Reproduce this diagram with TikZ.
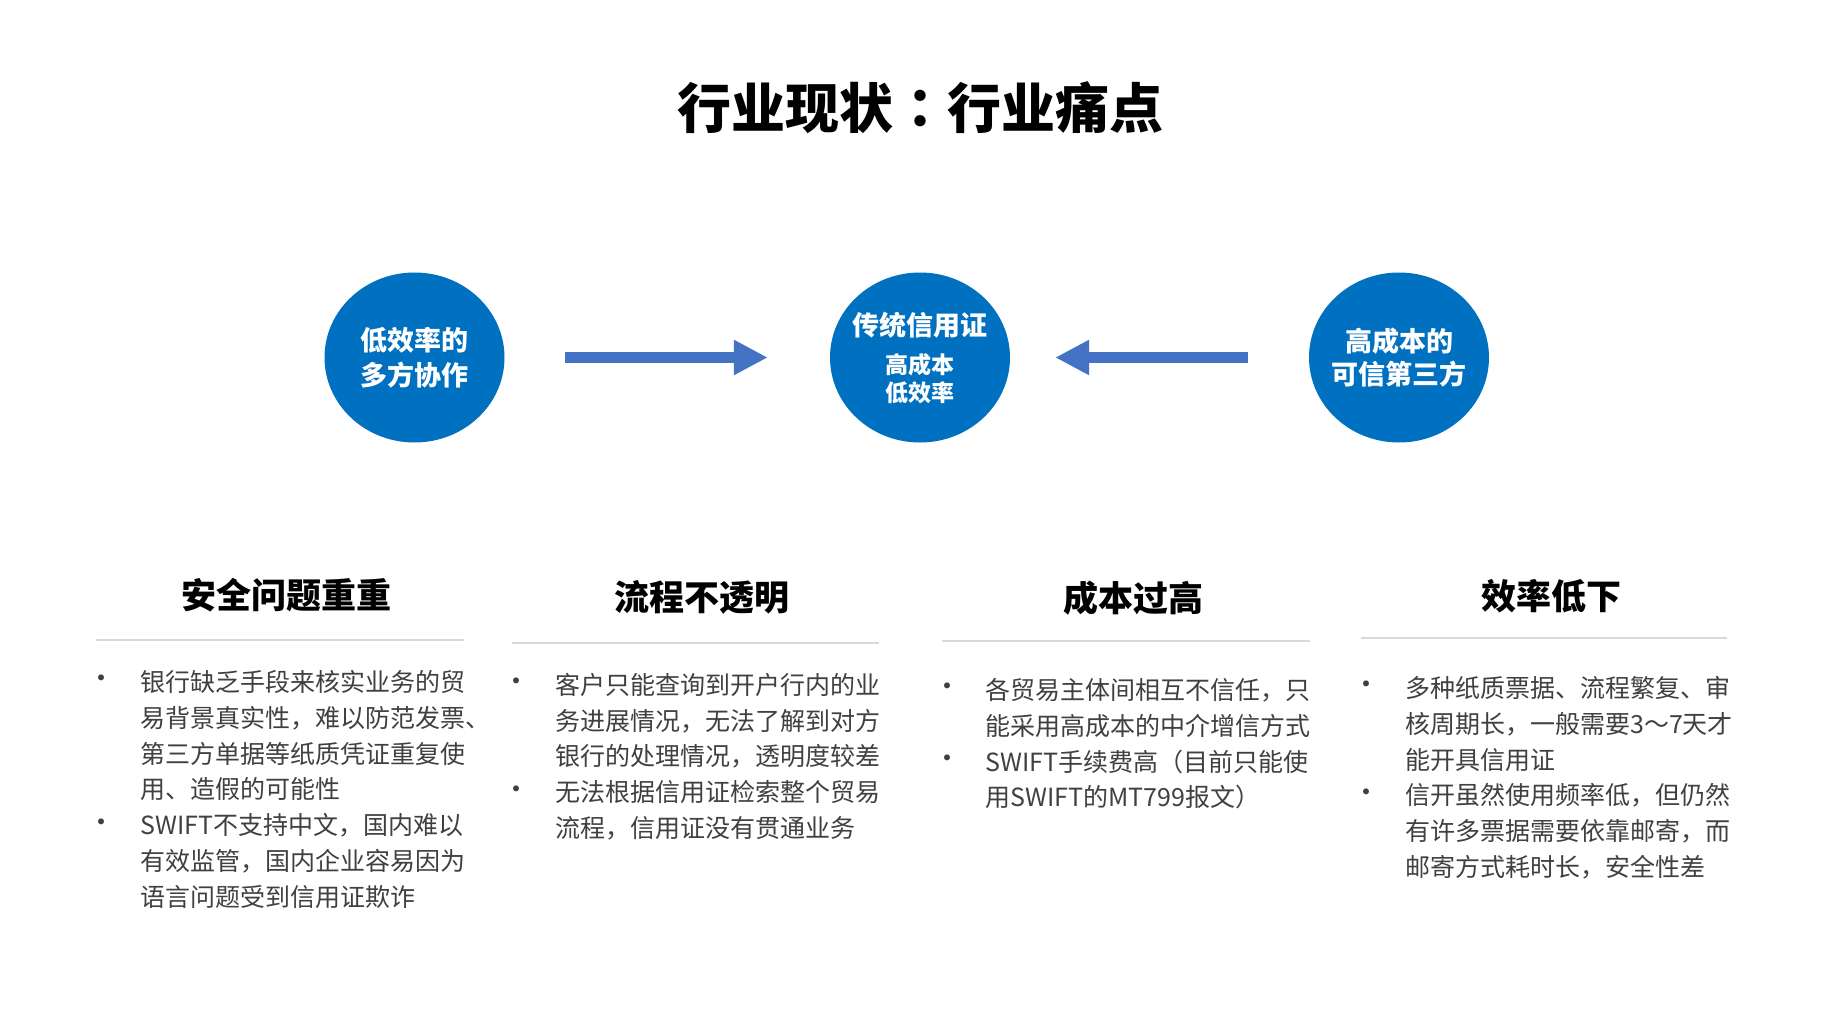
\documentclass[tikz,border=0pt]{standalone}
\usepackage{fontspec}
\setmainfont{Noto Sans CJK SC}
\newfontfamily\tcfont{Noto Sans CJK TC}
\usetikzlibrary{shapes.geometric,arrows.meta}
\definecolor{circblue}{RGB}{0,112,192}
\definecolor{arrblue}{RGB}{68,114,196}
\definecolor{bodygray}{RGB}{64,64,64}
\definecolor{rulegray}{RGB}{217,217,217}
\begin{document}
\begin{tikzpicture}[x=1pt,y=-1pt,
  bubble/.style={ellipse, fill=circblue, minimum width=180pt, minimum height=170pt, inner sep=0},
  bubtext/.style={text=white, font=\fontsize{27}{27}\selectfont\bfseries, inner sep=0},
  bubsmall/.style={text=white, font=\fontsize{23}{23}\selectfont\bfseries, inner sep=0},
  flow/.style={color=arrblue, line width=11pt, -{Triangle[length=34pt,width=33pt]}},
  heading/.style={font=\fontsize{35}{35}\selectfont\bfseries, inner sep=0},
  body/.style={font=\fontsize{25}{25}\selectfont, text=bodygray, anchor=west, inner sep=0},
  bulletmark/.style={font=\fontsize{28}{28}\selectfont, text=bodygray, inner sep=0},
  sepline/.style={draw=rulegray, line width=1.5pt}]
\useasboundingbox[fill=white] (0,0) rectangle (1840,1035);

% title
\node[font=\fontsize{54}{54}\selectfont\bfseries, inner sep=0] (title) at (920,107.5) {行业现状{\tcfont ：}行业痛点};

% bubbles
\node[bubble] (L) at (414.5,357.5) {};
\node[bubble] (M) at (920,357.5) {};
\node[bubble] (R) at (1399,357.5) {};

\node[bubtext] (l1) at (414.5,340) {低效率的};
\node[bubtext] (l2) at (414.5,375) {多方协作};
\node[bubtext] (m1) at (920,325) {传统信用证};
\node[bubsmall] (m2) at (920,365) {高成本};
\node[bubsmall] (m3) at (920,393) {低效率};
\node[bubtext] (r1) at (1399,341.5) {高成本的};
\node[bubtext] (r2) at (1399,374.5) {可信第三方};

% arrows
\draw[flow, shorten <=60.5pt, shorten >=62pt] (L.east) -- (M.west);
\draw[flow, shorten <=61pt, shorten >=45pt] (R.west) -- (M.east);

% headings
\node[heading] (h1) at (286.5,595) {安全问题重重};
\node[heading] (h2) at (702,597.5) {流程不透明};
\node[heading] (h3) at (1133.5,598) {成本过高};
\node[heading] (h4) at (1551.5,596) {效率低下};

% separator lines
\draw[sepline] (96,640) -- (464,640);
\draw[sepline] (512,643) -- (879,643);
\draw[sepline] (942,641) -- (1310,641);
\draw[sepline] (1361,638) -- (1727,638);

% column 1
\foreach \t [count=\i from 0] in {银行缺乏手段来核实业务的贸,易背景真实性，难以防范发票、,第三方单据等纸质凭证重复使,用、造假的可能性,SWIFT不支持中文，国内难以,有效监管，国内企业容易因为,语言问题受到信用证欺诈}
  \node[body] (ca\i) at (140,{682+35.8*\i}) {\t};
\node[bulletmark] (ba1) at (101,682) {•};
\node[bulletmark] (ba2) at (101,825.2) {•};

% column 2
\foreach \t [count=\i from 0] in {客户只能查询到开户行内的业,务进展情况，无法了解到对方,银行的处理情况，透明度较差,无法根据信用证检索整个贸易,流程，信用证没有贯通业务}
  \node[body] (cb\i) at (555,{685+35.8*\i}) {\t};
\node[bulletmark] (bb1) at (516,685) {•};
\node[bulletmark] (bb2) at (516,792.4) {•};

% column 3
\foreach \t [count=\i from 0] in {各贸易主体间相互不信任，只,能采用高成本的中介增信方式,SWIFT手续费高（目前只能使,用SWIFT的MT799报文）}
  \node[body] (cc\i) at (985,{690+35.8*\i}) {\t};
\node[bulletmark] (bc1) at (947,690) {•};
\node[bulletmark] (bc2) at (947,761.6) {•};

% column 4
\foreach \t [count=\i from 0] in {多种纸质票据、流程繁复、审,核周期长，一般需要3～7天才,能开具信用证,信开虽然使用频率低，但仍然,有许多票据需要依靠邮寄，而,邮寄方式耗时长，安全性差}
  \node[body] (cd\i) at (1405,{688+35.8*\i}) {\t};
\node[bulletmark] (bd1) at (1366,688) {•};
\node[bulletmark] (bd2) at (1366,795.4) {•};
\end{tikzpicture}
\end{document}
